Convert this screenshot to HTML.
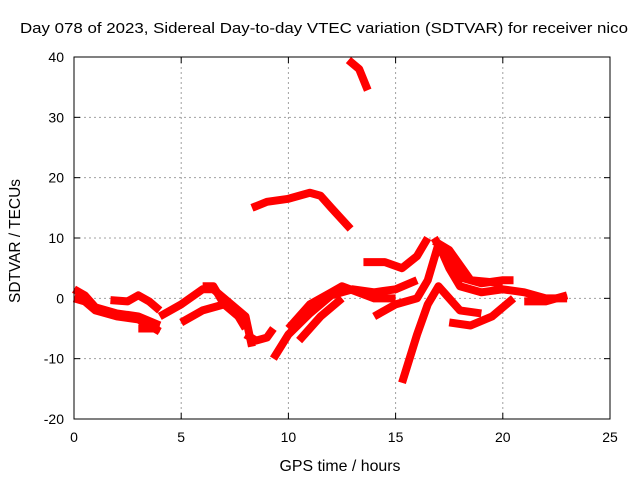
<!DOCTYPE html>
<html><head><meta charset="utf-8"><style>
body{margin:0;background:#fff;}
svg{display:block;font-family:"Liberation Sans",sans-serif;}
</style></head><body>
<svg id="chart" width="640" height="480">
<text x="20" y="33" font-size="15" textLength="608" lengthAdjust="spacingAndGlyphs" fill="#000">Day 078 of 2023, Sidereal Day-to-day VTEC variation (SDTVAR) for receiver nico</text>
<text x="340" y="471" font-size="16" textLength="121" lengthAdjust="spacingAndGlyphs" text-anchor="middle">GPS time / hours</text>
<text transform="translate(20,241) rotate(-90)" font-size="16" textLength="124" lengthAdjust="spacingAndGlyphs" text-anchor="middle">SDTVAR / TECUs</text>
<g id="grid"></g><g id="ticks"></g><g id="series"></g>
<rect x="74" y="57" width="536" height="362" fill="none" stroke="#000" stroke-width="1"/>
</svg>
<script>
const xTicks=[0,5,10,15,20,25];
const yTicks=[-20,-10,0,10,20,30,40];
const s1=[[0,1.5],[0.5,0.5],[1,-1.5],[2,-2.5],[3,-3],[4,-4.5]];
const s2=[[0,0],[0.5,-0.5],[1,-2],[2,-3],[3,-3.5],[4,-5.5]];
const s3=[[1.7,-0.3],[2.5,-0.5],[3,0.5],[3.5,-0.5],[4,-2]];
const s4=[[3,-5],[4,-5]];
const s5=[[4,-3],[5,-1],[6,1.5],[6.5,1.5],[7,0],[8,-3],[8.3,-8]];
const s6=[[5,-4],[6,-2],[7,-1],[8,-4]];
const s7=[[6,2],[6.5,2],[7,-1],[7.5,-2],[8,-5]];
const s8=[[8,-6],[8.5,-7],[9,-6.5],[9.3,-5]];
const s9=[[9.3,-10],[10,-6],[11,-2.5],[12,0.5],[13,1.5],[14,1],[15,1.5],[16,3]];
const s10=[[10,-5],[11,-1],[12,1],[12.5,2],[14,0],[15,0]];
const s11=[[10.5,-7],[11.5,-3],[12.5,0]];
const s12=[[8.3,15],[9,16],[10,16.5],[11,17.5],[11.5,17],[12,15],[12.9,11.5]];
const s13=[[12.8,39.5],[13.3,38],[13.7,34.5]];
const s14=[[13.5,6],[14.5,6],[15.3,5],[16,7],[16.5,10]];
const s15=[[15.3,-14],[16,-6],[16.5,-1],[17,2],[17.5,0],[18,-2],[19,-2.5]];
const s16=[[14,-3],[15,-1],[16,0],[16.5,3],[17,9],[17.5,5],[18,2],[19,1],[20,1.5],[21,1],[22,0],[23,0]];
const s17=[[16.8,10],[17.5,6],[18,3.5],[19,2.5],[20,3],[20.5,3]];
const s18=[[17.5,-4],[18.5,-4.5],[19.5,-3],[20.5,0]];
const s19=[[21,-0.5],[22,-0.5],[23,0.5]];
const s20=[[16.8,9.5],[17.5,8],[18.5,3],[20,2.5]];
const allSeries=[s1,s2,s3,s4,s5,s6,s7,s8,s9,s10,s11,s12,s13,s14,s15,s16,s17,s18,s19,s20];
const NS="http://www.w3.org/2000/svg";
function xs(v){return 74+(v-0)/25*536;}
function ys(v){return 419-(v+20)/60*362;}
const grid=document.getElementById('grid'),ticks=document.getElementById('ticks'),ser=document.getElementById('series');
function mk(tag,attrs,parent){const e=document.createElementNS(NS,tag);for(const k in attrs)e.setAttribute(k,attrs[k]);parent.appendChild(e);return e;}
xTicks.forEach(t=>{
  const x=xs(t);
  if(t>0&&t<25){const g=mk('line',{x1:x,x2:x,y1:57,y2:419,stroke:'#a0a0a0','stroke-dasharray':'2,3'},grid);
  
  }
  mk('line',{x1:x,x2:x,y1:419,y2:413,stroke:'#000'},ticks);
  mk('line',{x1:x,x2:x,y1:57,y2:63,stroke:'#000'},ticks);
  const l=mk('text',{x:x,y:442,'font-size':14,'text-anchor':'middle'},ticks);l.textContent=t;
  
  
});
yTicks.forEach(t=>{
  const y=ys(t);
  if(t>-20&&t<40){const g=mk('line',{x1:74,x2:610,y1:y,y2:y,stroke:'#a0a0a0','stroke-dasharray':'2,3'},grid);
  
  }
  mk('line',{x1:74,x2:80,y1:y,y2:y,stroke:'#000'},ticks);
  mk('line',{x1:604,x2:610,y1:y,y2:y,stroke:'#000'},ticks);
  const l=mk('text',{x:64,y:y+5,'font-size':14,'text-anchor':'end'},ticks);l.textContent=t;
  
  
});
allSeries.forEach((s,i)=>{
  const p=mk('polyline',{points:s.map(d=>xs(d[0])+','+ys(d[1])).join(' '),fill:'none',stroke:'#ff0000','stroke-width':8,'stroke-linejoin':'round','stroke-linecap':'butt'},ser);
  
  
});
</script>
</body></html>
